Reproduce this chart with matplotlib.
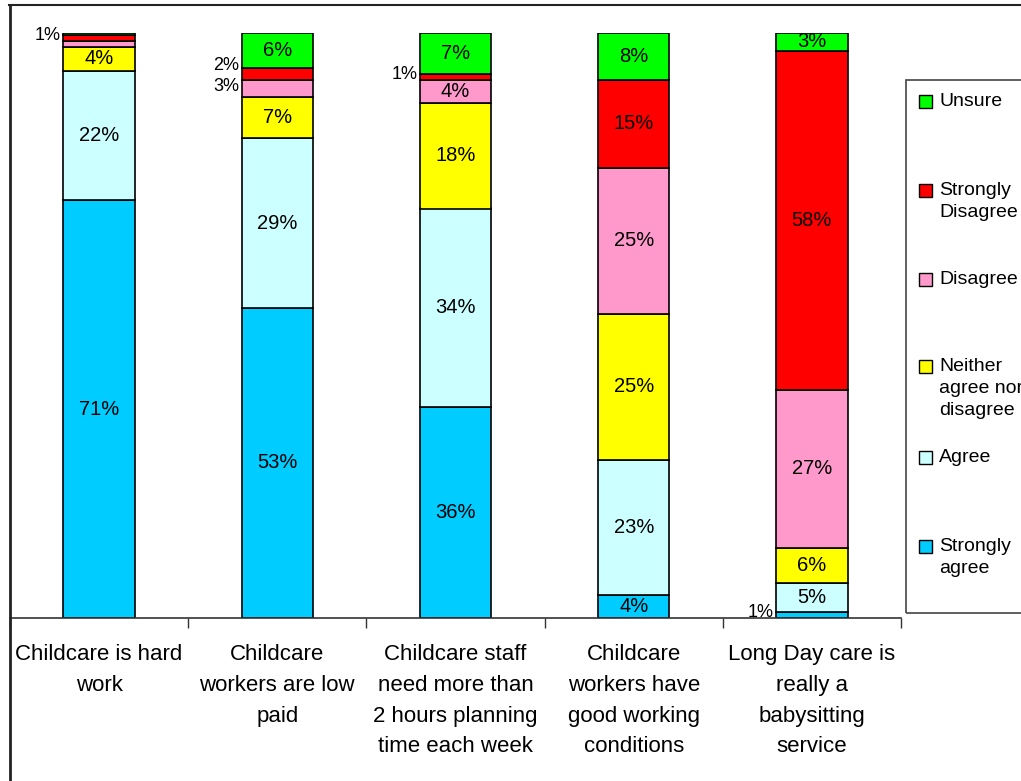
import matplotlib.pyplot as plt
import matplotlib.patches as mpatches
from matplotlib.lines import Line2D
import numpy as np

plt.rcParams['font.family'] = ['Liberation Sans', 'DejaVu Sans']

categories = [
    'Childcare is hard\nwork',
    'Childcare\nworkers are low\npaid',
    'Childcare staff\nneed more than\n2 hours planning\ntime each week',
    'Childcare\nworkers have\ngood working\nconditions',
    'Long Day care is\nreally a\nbabysitting\nservice',
]

# series from bottom to top
series = ['Strongly\nagree', 'Agree', 'Neither\nagree nor\ndisagree',
          'Disagree', 'Strongly\nDisagree', 'Unsure']
strongly_agree = [71, 53, 36, 4, 1]
agree = [22, 29, 34, 23, 5]
neither = [4, 7, 18, 25, 6]
disagree = [1, 3, 4, 25, 27]
strongly_disagree = [1, 2, 1, 15, 58]
unsure = [0.4, 6, 7, 8, 3]

colors = ['#00CCFF', '#CCFFFF', '#FFFF00', '#FF99CC', '#FF0000', '#00FF00']

values = np.array([strongly_agree, agree, neither, disagree,
                   strongly_disagree, unsure], dtype=float)
pct = values / values.sum(axis=0) * 100

W, H = 1021, 781
fig = plt.figure(figsize=(W / 100, H / 100), dpi=100)
ax = fig.add_axes([10 / W, (H - 618) / H, 891 / W, 585 / H])

x = np.arange(len(categories))
bottom = np.zeros(len(categories))
bar_w = 0.4
top = len(series) - 1
last_side = [-99.0] * len(categories)  # keep small side labels apart
for i, (name, col) in enumerate(zip(series, colors)):
    ax.bar(x, pct[i], bottom=bottom, width=bar_w, color=col,
           edgecolor='black', linewidth=1.2, zorder=2)
    for j in range(len(categories)):
        v = values[i, j]
        mid = bottom[j] + pct[i, j] / 2
        if v >= 4 or (i == top and v >= 3):
            ax.text(x[j], mid, f'{v:.0f}%', ha='center', va='center',
                    fontsize=14.5)
        elif v >= 1 and not (j == 0 and i == 3):
            ypos = max(mid + 0.4, last_side[j] + 3.6)
            last_side[j] = ypos
            ax.text(x[j] - bar_w / 2 - 0.015, ypos, f'{v:.0f}%',
                    ha='right', va='center', fontsize=13)
    bottom += pct[i]

ax.set_xlim(-0.5, len(categories) - 0.5)
ax.set_ylim(0, 100)
ax.set_yticks([])
ax.set_xticks(np.arange(len(categories) + 1) - 0.5)
ax.set_xticklabels([])
ax.tick_params(axis='x', direction='out', length=7, width=1, colors='#333333')
for s in ['top', 'right', 'left']:
    ax.spines[s].set_visible(False)
ax.spines['bottom'].set_linewidth(1.2)
ax.spines['bottom'].set_color('#333333')
ax.patch.set_alpha(0)

for j, lab in enumerate(categories):
    ax.text(x[j], -0.045, lab, transform=ax.get_xaxis_transform(),
            ha='center', va='top', fontsize=16, linespacing=1.6)

# outer chart border
fig.add_artist(Line2D([9 / W, 1], [1 - 5 / H, 1 - 5 / H],
                      color='#222222', lw=1.5, transform=fig.transFigure))
fig.add_artist(Line2D([9.5 / W, 9.5 / W], [0, 1 - 5 / H],
                      color='#222222', lw=2, transform=fig.transFigure))

# legend box
fig.add_artist(mpatches.Rectangle((906 / W, (H - 613) / H), 130 / W, 533 / H,
                                  transform=fig.transFigure, fill=False,
                                  edgecolor='#444444', lw=1.2))
legend_y = [101, 202, 279, 390, 457, 558]
for name, col, yy in zip(series[::-1], colors[::-1], legend_y):
    nlines = name.count('\n') + 1
    ytop = yy - (nlines - 1) * 24 / 2
    fig.add_artist(mpatches.Rectangle((919 / W, (H - ytop - 7) / H), 13 / W, 13 / H,
                                      transform=fig.transFigure,
                                      facecolor=col, edgecolor='black', lw=1))
    fig.text(939 / W, (H - ytop + 8) / H, name, ha='left', va='top',
             fontsize=14, linespacing=1.4)

fig.savefig('out.png', dpi=100)
